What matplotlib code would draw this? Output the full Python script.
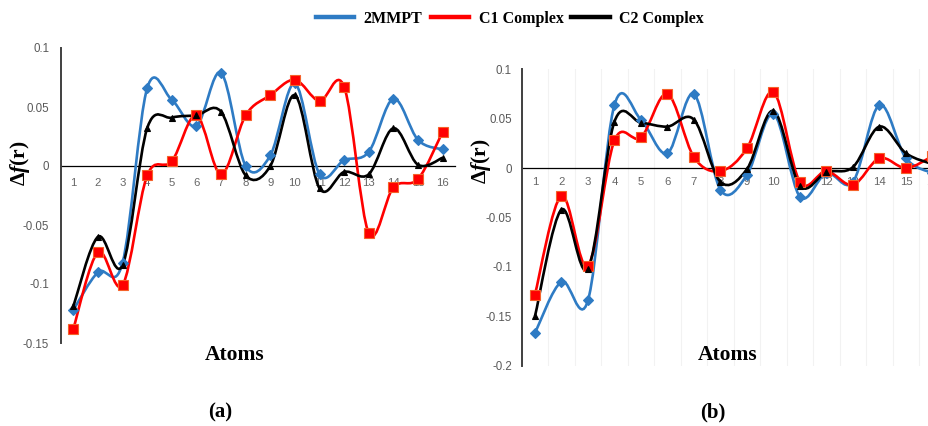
import matplotlib
matplotlib.use("Agg")

import matplotlib.pyplot as plt
from matplotlib.path import Path
from matplotlib.patches import PathPatch
from matplotlib.lines import Line2D
import numpy as np

# data
atoms = list(range(1, 17))
series_names = ["2MMPT", "C1 Complex", "C2 Complex"]

a_2mmpt = [-0.122, -0.090, -0.082, 0.066, 0.056, 0.034, 0.079, 0.000,
           0.009, 0.070, -0.007, 0.005, 0.012, 0.057, 0.022, 0.014]
a_c1 = [-0.138, -0.073, -0.101, -0.008, 0.004, 0.043, -0.007, 0.043,
        0.060, 0.073, 0.055, 0.067, -0.057, -0.018, -0.011, 0.029]
a_c2 = [-0.119, -0.060, -0.084, 0.032, 0.041, 0.043, 0.046, -0.008,
        0.000, 0.060, -0.019, -0.005, -0.007, 0.032, 0.001, 0.007]

b_2mmpt = [-0.167, -0.115, -0.134, 0.064, 0.049, 0.015, 0.075, -0.022,
           -0.007, 0.055, -0.029, -0.005, -0.014, 0.064, 0.010, -0.005]
b_c1 = [-0.128, -0.028, -0.099, 0.028, 0.031, 0.075, 0.011, -0.003,
        0.020, 0.077, -0.014, -0.003, -0.017, 0.010, 0.000, 0.012]
b_c2 = [-0.150, -0.042, -0.102, 0.047, 0.046, 0.042, 0.049, -0.014,
        -0.001, 0.058, -0.018, -0.004, 0.001, 0.042, 0.015, 0.004]

a_yticks = [-0.15, -0.1, -0.05, 0, 0.05, 0.1]
a_yticklabels = ["-0.15", "-0.1", "-0.05", "0", "0.05", "0.1"]
b_yticks = [-0.2, -0.15, -0.1, -0.05, 0, 0.05, 0.1]
b_yticklabels = ["-0.2", "-0.15", "-0.1", "-0.05", "0", "0.05", "0.1"]

colors = ["#2E7BC4", "#FF0000", "#000000"]
markers = ["D", "s", "^"]
msizes = [5, 6.5, 4.5]
medges = ["#2E7BC4", "#F5622A", "#000000"]

plt.rcParams["mathtext.fontset"] = "custom"
plt.rcParams["mathtext.rm"] = "Liberation Serif:bold"
plt.rcParams["mathtext.it"] = "Liberation Serif:italic:bold"
plt.rcParams["mathtext.bf"] = "Liberation Serif:bold"

TICK_FONT = "Liberation Sans"


def smooth_path(x, y):
    "excel-like smoothed line through the points (cubic bezier, catmull-rom)"
    pts = np.column_stack([x, y]).astype(float)
    n = len(pts)
    verts = [pts[0]]
    codes = [Path.MOVETO]
    for i in range(n - 1):
        p0 = pts[max(i - 1, 0)]
        p1 = pts[i]
        p2 = pts[i + 1]
        p3 = pts[min(i + 2, n - 1)]
        c1 = p1 + (p2 - p0) / 6.0
        c2 = p2 - (p3 - p1) / 6.0
        verts += [c1, c2, p2]
        codes += [Path.CURVE4] * 3
    return Path(verts, codes)


def draw_panel(ax, series, yticks, yticklabels, xpad, ypad, grid=False):
    for vals, c, m, ms, me in zip(series, colors, markers, msizes, medges):
        patch = PathPatch(smooth_path(atoms, vals), facecolor="none",
                          edgecolor=c, lw=1.9, zorder=3)
        ax.add_patch(patch)
        ax.plot(atoms, vals, linestyle="none", marker=m, markersize=ms,
                color=c, markeredgecolor=me, markeredgewidth=0.8, zorder=4)

    # spines first: moving a spine resets the ticks
    ax.spines["top"].set_visible(False)
    ax.spines["right"].set_visible(False)
    ax.spines["bottom"].set_position(("data", 0))
    ax.spines["bottom"].set_color("black")
    ax.spines["bottom"].set_linewidth(0.9)
    ax.spines["bottom"].set_zorder(2)
    ax.spines["left"].set_color("#404040")
    ax.spines["left"].set_linewidth(1.4)

    ax.set_xlim(0.5, 16.5)
    ax.set_ylim(min(yticks), max(yticks))
    ax.set_yticks(yticks)
    ax.set_yticklabels(yticklabels, fontfamily=TICK_FONT, fontsize=8.3, color="#595959")
    ax.set_xticks(atoms)
    ax.set_xticklabels([str(a) for a in atoms], fontfamily=TICK_FONT,
                       fontsize=8.2, color="#666666")
    ax.tick_params(axis="x", length=0, pad=xpad)
    ax.tick_params(axis="y", length=0, pad=ypad)

    if grid:
        ax.set_xticks(np.arange(0.5, 17.0, 1.0), minor=True)
        ax.tick_params(axis="x", which="minor", length=0)
        ax.grid(True, which="minor", axis="x", color="#f2f2f2", lw=0.8)
        ax.set_axisbelow(True)


fig = plt.figure(figsize=(9.29, 4.26), dpi=100)

ax_a = fig.add_axes([61 / 929, 1 - 343 / 426, 394 / 929, 295 / 426])
ax_b = fig.add_axes([521.7 / 929, 1 - 365.7 / 426, 424 / 929, 296.4 / 426])

draw_panel(ax_a, [a_2mmpt, a_c1, a_c2], a_yticks, a_yticklabels, xpad=9, ypad=8.5)
draw_panel(ax_b, [b_2mmpt, b_c1, b_c2], b_yticks, b_yticklabels, xpad=6.5, ypad=7, grid=True)

ylab = r"$\Delta\mathit{f}\mathrm{(r)}$"
ax_a.set_ylabel(ylab, fontsize=15.5)
ax_a.yaxis.set_label_coords(-0.074, 0.61)
ax_b.set_ylabel(ylab, fontsize=15.5)
ax_b.yaxis.set_label_coords(-0.068, 0.689)

serif = "Liberation Serif"
fig.text(235 / 929, 1 - 355 / 426, "Atoms", ha="center", va="center",
         fontfamily=serif, fontweight="bold", fontsize=15.5)
fig.text(728 / 929, 1 - 355 / 426, "Atoms", ha="center", va="center",
         fontfamily=serif, fontweight="bold", fontsize=15.5)
fig.text(220 / 929, 1 - 412 / 426, "(a)", ha="center", va="center",
         fontfamily=serif, fontweight="bold", fontsize=15)
fig.text(713 / 929, 1 - 412 / 426, "(b)", ha="center", va="center",
         fontfamily=serif, fontweight="bold", fontsize=15)

handles = [Line2D([], [], color=c, lw=3.2) for c in colors]
fig.legend(handles, series_names, loc="center", bbox_to_anchor=(510 / 929, 1 - 19 / 426),
           ncol=3, frameon=False, handlelength=2.4, handletextpad=0.6,
           columnspacing=0.5, prop={"family": serif, "weight": "bold", "size": 11.5})

fig.savefig("out.png", dpi=100)
